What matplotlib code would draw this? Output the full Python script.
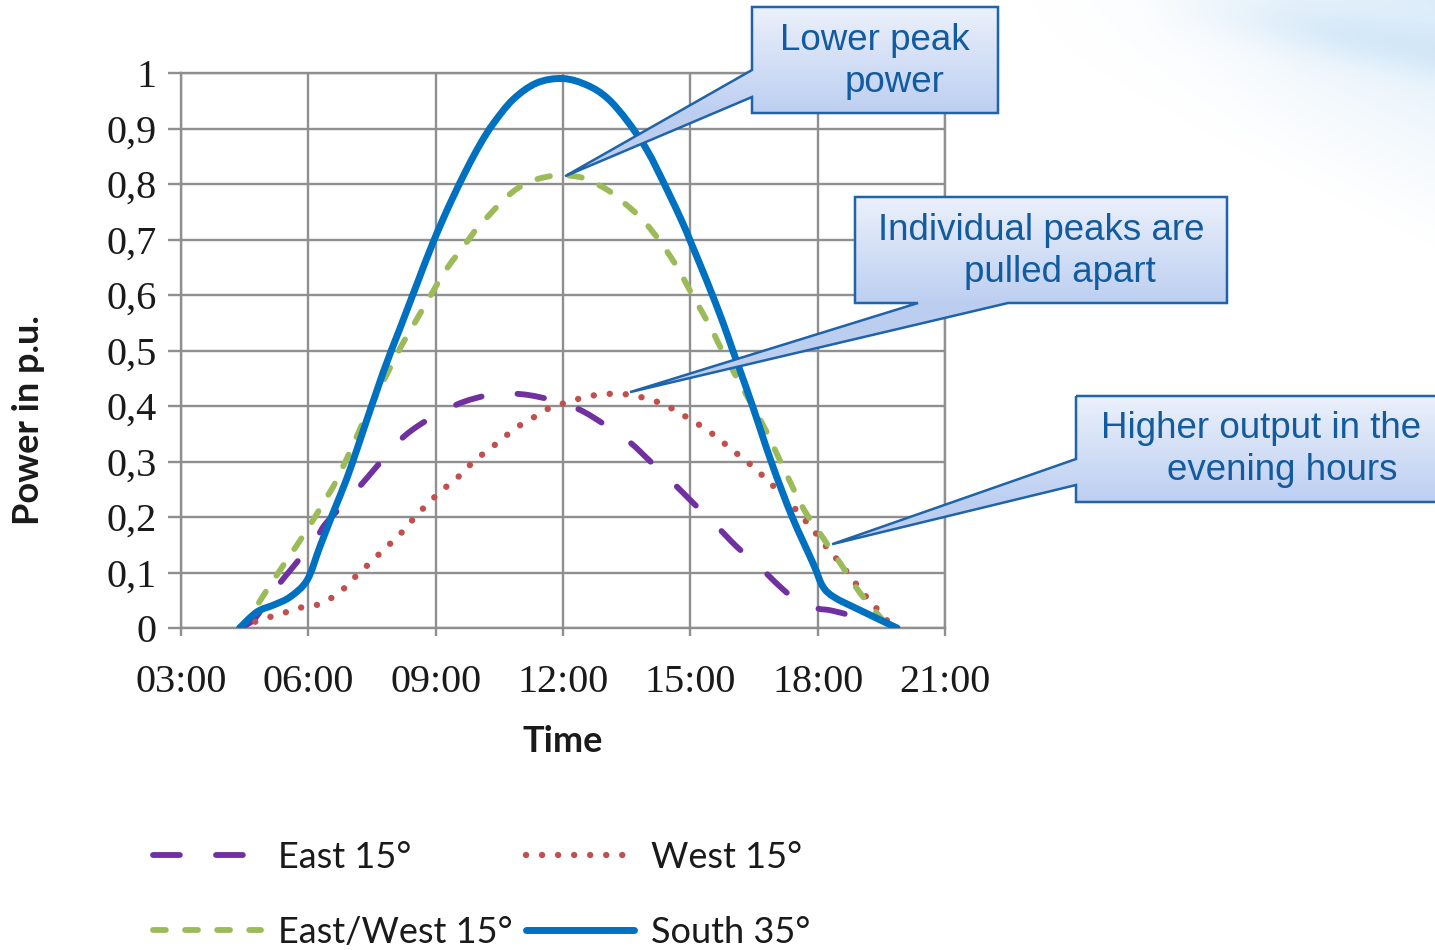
import numpy as np
import matplotlib
matplotlib.use("Agg")
import matplotlib.pyplot as plt
from matplotlib.patches import Polygon, PathPatch
from matplotlib.path import Path
from matplotlib.lines import Line2D

# ---------------- data (hours of day, power in p.u.) ----------------
east_h = [4.38, 4.7, 5.0, 5.33, 5.64, 6.2, 6.43, 7.14, 7.6, 8.17, 8.6, 9.1, 9.64,
          10.36, 11.06, 11.77, 12.4, 12.99, 13.57, 14.1, 14.6, 15.07, 15.54, 16.1,
          16.57, 17.12, 17.59, 18.0, 18.29, 18.7, 19.05]
east_v = [0.0, 0.014, 0.045, 0.081, 0.11, 0.164, 0.19, 0.249, 0.29, 0.339, 0.365,
          0.387, 0.407, 0.421, 0.421, 0.41, 0.393, 0.366, 0.335, 0.297, 0.261, 0.225,
          0.19, 0.146, 0.115, 0.074, 0.045, 0.035, 0.032, 0.024, 0.012]

west_h = [4.4, 4.7, 5.1, 5.5, 5.88, 6.27, 6.58, 6.91, 7.14, 7.45, 7.76, 8.04, 8.32,
          8.56, 9.1, 9.46, 9.73, 10.02, 10.33, 10.65, 10.96, 11.32, 11.65, 12.02,
          12.42, 12.8, 13.2, 13.6, 13.98, 14.38, 14.71, 15.06, 15.39, 15.7, 16.0,
          16.3, 16.57, 16.83, 17.1, 17.35, 17.86, 18.07, 18.33, 18.6, 18.84, 19.07,
          19.33, 19.6, 19.7]
west_v = [0.0, 0.01, 0.02, 0.029, 0.038, 0.043, 0.056, 0.076, 0.095, 0.117, 0.14,
          0.16, 0.182, 0.204, 0.245, 0.267, 0.288, 0.308, 0.326, 0.346, 0.364, 0.38,
          0.395, 0.405, 0.414, 0.42, 0.422, 0.42, 0.413, 0.403, 0.389, 0.373,
          0.357, 0.339, 0.32, 0.302, 0.284, 0.265, 0.245, 0.225, 0.18, 0.159, 0.135,
          0.11, 0.086, 0.063, 0.04, 0.018, 0.0]

ew_h = [4.38, 4.62, 5.02, 5.49, 5.97, 6.35, 6.67, 7.14, 7.38, 8.1, 8.47, 8.85, 9.24,
        9.72, 10.0, 10.68, 11.15, 11.62, 12.0, 12.47, 12.87, 13.18, 13.82, 14.29,
        14.69, 15.07, 15.47, 15.77, 16.48, 16.8, 17.0, 17.63, 18.05, 18.53, 19.0,
        19.47, 19.7]
ew_v = [0.0, 0.02, 0.068, 0.122, 0.177, 0.225, 0.267, 0.345, 0.385, 0.495, 0.545,
        0.595, 0.645, 0.694, 0.722, 0.777, 0.802, 0.813, 0.816, 0.811, 0.797, 0.782,
        0.74, 0.696, 0.65, 0.597, 0.543, 0.497, 0.398, 0.353, 0.32, 0.22, 0.171,
        0.117, 0.063, 0.02, 0.0]

south_h = [4.38, 4.79, 5.2, 5.57, 5.97, 6.27, 6.58, 6.91, 7.22, 7.76, 8.16, 8.56,
           8.94, 9.34, 9.74, 10.05, 10.35, 10.82, 11.38, 12.0, 12.57, 13.04, 13.5,
           13.98, 14.45, 14.83, 15.0, 15.39, 15.77, 16.0, 16.33, 16.64, 16.95, 17.4,
           17.9, 18.12, 18.4, 19.0, 19.87]
south_v = [0.0, 0.029, 0.042, 0.056, 0.086, 0.146, 0.207, 0.27, 0.339, 0.46, 0.54,
           0.62, 0.695, 0.765, 0.828, 0.872, 0.908, 0.952, 0.982, 0.99, 0.978, 0.955,
           0.915, 0.861, 0.79, 0.728, 0.697, 0.625, 0.55, 0.5, 0.43, 0.36, 0.29, 0.2,
           0.115, 0.075, 0.055, 0.032, 0.0]

series_labels = ["East 15°", "West 15°", "East/West 15°", "South 35°"]
x_ticks = [3, 6, 9, 12, 15, 18, 21]
x_tick_labels = ["03:00", "06:00", "09:00", "12:00", "15:00", "18:00", "21:00"]
y_ticks = [0, 0.1, 0.2, 0.3, 0.4, 0.5, 0.6, 0.7, 0.8, 0.9, 1.0]
y_tick_labels = ["0", "0,1", "0,2", "0,3", "0,4", "0,5", "0,6", "0,7", "0,8", "0,9", "1"]

callout_texts = [("Lower peak", "power"),
                 ("Individual peaks are", "pulled apart"),
                 ("Higher output in the", "evening hours")]
callout_tips = [(12.05, 0.814), (13.58, 0.425), (18.34, 0.151)]

# ---------------- figure ----------------
W, H = 1435, 950
fig = plt.figure(figsize=(W / 100, H / 100), dpi=100)
fig.patch.set_facecolor("white")

# background swoosh (top-right)
bg = fig.add_axes([0, 0, 1, 1], zorder=-10)
yy, xx = np.mgrid[0:H:2, 0:W:2]
d = (xx - 1050) * 0.5 - yy
band = np.clip((d + 60) / 300.0, 0, 1) * np.clip((xx - 1000) / 300.0, 0, 1)
streak = 0.25 * np.exp(-((yy - (xx - 1150) * 0.18) ** 2) / (2 * 18 ** 2)) * np.clip((xx - 1150) / 200, 0, 1)
alpha = np.clip(0.55 * band ** 1.2 + streak, 0, 0.7)
rgba = np.zeros(yy.shape + (4,))
rgba[..., 0] = 0.70
rgba[..., 1] = 0.84
rgba[..., 2] = 0.95
rgba[..., 3] = alpha
bg.imshow(rgba, extent=[0, W, H, 0], aspect="auto", interpolation="bilinear")
bg.set_xlim(0, W)
bg.set_ylim(H, 0)
bg.axis("off")

# main axes
ax = fig.add_axes([181 / W, 1 - 628 / H, 764 / W, 555 / H])
ax.set_facecolor("white")
grid_c = "#8f8f8f"


def smooth_path(xs, ys):
    """Excel-like smoothed line: Catmull-Rom segments as cubic Bezier curves."""
    p = np.column_stack([xs, ys]).astype(float)
    n = len(p)
    verts = [p[0]]
    codes = [Path.MOVETO]
    for i in range(n - 1):
        p0 = p[i - 1] if i > 0 else p[i]
        p1, p2 = p[i], p[i + 1]
        p3 = p[i + 2] if i + 2 < n else p[i + 1]
        c1 = p1 + (p2 - p0) / 6.0
        c2 = p2 - (p3 - p1) / 6.0
        verts += [c1, c2, p2]
        codes += [Path.CURVE4] * 3
    return Path(verts, codes)


styles = [
    dict(color="#7030a0", lw=4.2, dashes=(4.6, 6.2)),   # East
    dict(color="#c0504d", lw=4.6, dashes=(0.01, 2.5)),  # West
    dict(color="#9bbb59", lw=4.2, dashes=(2.2, 3.3)),   # East/West
    dict(color="#0070c0", lw=5.0, dashes=None),         # South
]
series = [(east_h, east_v), (west_h, west_v), (ew_h, ew_v), (south_h, south_v)]
handles = []
for (xs, ys), st, z in zip(series, styles, [3, 3, 3, 4]):
    ls = "-" if st["dashes"] is None else (0, st["dashes"])
    pp = PathPatch(smooth_path(xs, ys), fill=False, edgecolor=st["color"], lw=st["lw"],
                   linestyle=ls, capstyle="round", joinstyle="round", zorder=z)
    ax.add_patch(pp)
    if st["dashes"] is None:
        hl = Line2D([], [], color=st["color"], lw=st["lw"], solid_capstyle="round")
    else:
        hl = Line2D([], [], color=st["color"], lw=st["lw"], dashes=st["dashes"],
                    dash_capstyle="round")
    handles.append(hl)

ax.set_xlim(3, 21)
ax.set_ylim(0, 1)
ax.set_xticks(x_ticks)
ax.set_xticklabels(x_tick_labels)
ax.set_yticks(y_ticks)
ax.set_yticklabels(y_tick_labels)
ax.grid(True, color=grid_c, lw=1.7, zorder=0)
ax.set_axisbelow(True)
for s in ax.spines.values():
    s.set_color(grid_c)
    s.set_linewidth(1.7)
for lab in ax.get_xticklabels() + ax.get_yticklabels():
    lab.set_fontfamily("Liberation Serif")
    lab.set_fontsize(29)
    lab.set_color("#1a1a1a")
ax.tick_params(axis="y", length=9.4, width=1.7, color=grid_c, pad=8)
ax.tick_params(axis="x", length=6, width=1.7, color=grid_c, pad=20)

ax.set_xlabel("Time", family="Lato", weight="bold", size=26, color="#1a1a1a")
ax.set_ylabel("Power in p.u.", family="Lato", weight="bold", size=26, color="#1a1a1a")
ax.xaxis.set_label_coords(0.5, -0.175)
ax.yaxis.set_label_coords(-0.178, 0.375)

# legend (column-major fill: East, East/West | West, South)
order = [0, 2, 1, 3]
leg = ax.legend([handles[i] for i in order], [series_labels[i] for i in order],
                loc="upper left", bbox_to_anchor=(153 / W, 1 - 841 / H),
                bbox_transform=fig.transFigure, ncol=2, frameon=False,
                prop=dict(family="Lato", size=26), handlelength=3.0,
                handletextpad=0.45, columnspacing=0.38, labelspacing=1.15,
                borderpad=0, borderaxespad=0)
for t in leg.get_texts():
    t.set_color("#1a1a1a")

# ---------------- callouts (overlay, pixel coords, y down) ----------------
ov = fig.add_axes([0, 0, 1, 1], zorder=10)
ov.set_xlim(0, W)
ov.set_ylim(H, 0)
ov.axis("off")


def to_px(xd, yd):
    dx, dy = ax.transData.transform((xd, yd))
    return dx, H - dy


top_c = np.array([0.925, 0.945, 0.985])
bot_c = np.array([0.74, 0.81, 0.945])
edge_c = "#1f63a8"
text_c = "#115b9e"


def callout(verts, box_y0, box_y1):
    xs = [v[0] for v in verts]
    ys = [v[1] for v in verts]
    y_lo, y_hi = min(ys), max(ys)
    rows = np.linspace(y_lo, y_hi, 300)
    t = np.clip((rows - box_y0) / (box_y1 - box_y0), 0, 1)[:, None]
    img = top_c[None, :] * (1 - t) + bot_c[None, :] * t
    img = np.repeat(img[:, None, :], 4, axis=1)
    fill = Polygon(verts, closed=True, facecolor="none", edgecolor="none")
    ov.add_patch(fill)
    im = ov.imshow(img, extent=[min(xs), max(xs), y_hi, y_lo], aspect="auto",
                   interpolation="bilinear", zorder=2)
    im.set_clip_path(fill)
    ov.add_patch(Polygon(verts, closed=True, facecolor="none", edgecolor=edge_c,
                         lw=1.8, joinstyle="miter", zorder=3))


tx, ty = to_px(*callout_tips[0])
callout([(752, 7), (998, 7), (998, 113), (752, 113), (752, 97), (tx, ty), (752, 70)], 7, 113)
tx, ty = to_px(*callout_tips[1])
callout([(855, 197), (1227, 197), (1227, 303), (1008, 303), (tx, ty), (918, 303), (855, 303)], 197, 303)
tx, ty = to_px(*callout_tips[2])
callout([(1076, 396), (1445, 396), (1445, 502), (1076, 502), (1076, 485), (tx, ty), (1076, 459)], 396, 502)
ov.set_xlim(0, W)
ov.set_ylim(H, 0)

cfont = dict(family="Liberation Sans", size=26.5, color=text_c, ha="center", va="center", zorder=5)
ov.text(875, 40, callout_texts[0][0], **cfont)
ov.text(895, 82, callout_texts[0][1], **cfont)
ov.text(1041, 230, callout_texts[1][0], **cfont)
ov.text(1060, 272, callout_texts[1][1], **cfont)
ov.text(1261, 429, callout_texts[2][0], **cfont)
ov.text(1282, 471, callout_texts[2][1], **cfont)

fig.savefig("out.png", dpi=100, facecolor="white")
